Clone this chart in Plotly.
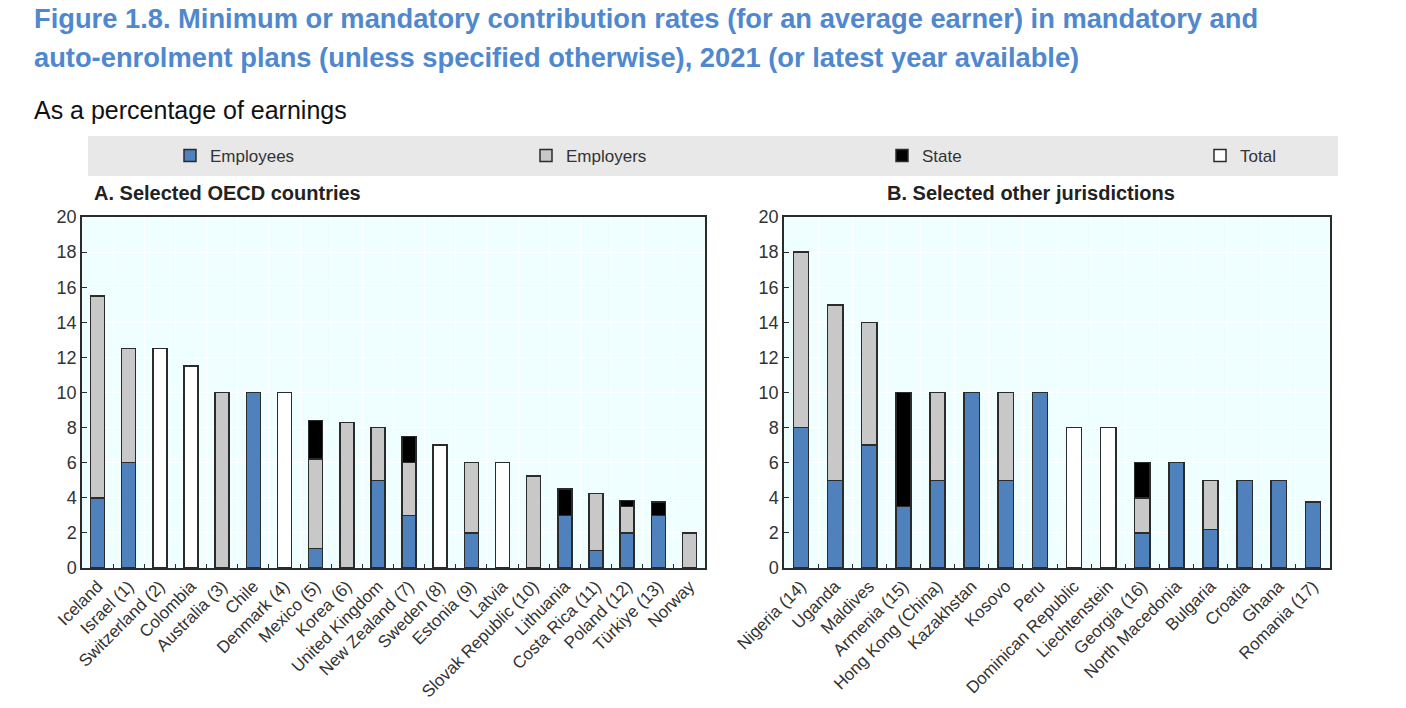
import plotly.graph_objects as go

W, H = 1406, 708

# ---------------- data ----------------
oecd = ["Iceland", "Israel (1)", "Switzerland (2)", "Colombia", "Australia (3)", "Chile",
        "Denmark (4)", "Mexico (5)", "Korea (6)", "United Kingdom", "New Zealand (7)",
        "Sweden (8)", "Estonia (9)", "Latvia", "Slovak Republic (10)", "Lithuania",
        "Costa Rica (11)", "Poland (12)", "Türkiye (13)", "Norway"]
oecd_employees = [4, 6, None, None, None, 10, None, 1.1, None, 5, 3, None, 2, None, None, 3, 1, 2, 3, None]
oecd_employers = [11.5, 6.5, None, None, 10, None, None, 5.1, 8.3, 3, 3, None, 4, None, 5.25, None, 3.25, 1.5, None, 2]
oecd_state = [None, None, None, None, None, None, None, 2.2, None, None, 1.5, None, None, None, None, 1.5, None, 0.35, 0.75, None]
oecd_total = [None, None, 12.5, 11.5, None, None, 10, None, None, None, None, 7, None, 6, None, None, None, None, None, None]

other = ["Nigeria (14)", "Uganda", "Maldives", "Armenia (15)", "Hong Kong (China)", "Kazakhstan",
         "Kosovo", "Peru", "Dominican Republic", "Liechtenstein", "Georgia (16)", "North Macedonia",
         "Bulgaria", "Croatia", "Ghana", "Romania (17)"]
other_employees = [8, 5, 7, 3.5, 5, 10, 5, 10, None, None, 2, 6, 2.2, 5, 5, 3.75]
other_employers = [10, 10, 7, None, 5, None, 5, None, None, None, 2, None, 2.8, None, None, None]
other_state = [None, None, None, 6.5, None, None, None, None, None, None, 2, None, None, None, None, None]
other_total = [None, None, None, None, None, None, None, None, 8, 8, None, None, None, None, None, None]

y_ticks = [0, 2, 4, 6, 8, 10, 12, 14, 16, 18, 20]

# ---------------- styles ----------------
C_EMP = "#4f81bd"
C_ER = "#c8c8c8"
C_ST = "#000000"
C_TOT = "#ffffff"
LINE = dict(color="#2b2b2b", width=1.5)
TITLE_BLUE = "#4f88cf"
FONT = "Liberation Sans, Arial, sans-serif"

def px(x):
    return x / W

def py(y):
    return 1 - y / H

fig = go.Figure()

series = [("Employees", C_EMP, oecd_employees, other_employees, "legend"),
          ("Employers", C_ER, oecd_employers, other_employers, "legend2"),
          ("State", C_ST, oecd_state, other_state, "legend3")]
for name, col, left_vals, right_vals, lg in series:
    fig.add_trace(go.Bar(x=oecd, y=left_vals, name=name, marker=dict(color=col, line=LINE),
                         xaxis="x", yaxis="y", legend=lg, showlegend=True))
    fig.add_trace(go.Bar(x=other, y=right_vals, name=name, marker=dict(color=col, line=LINE),
                         xaxis="x2", yaxis="y2", showlegend=False))

fig.add_trace(go.Bar(x=oecd, y=oecd_total, name="Total", marker=dict(color=C_TOT, line=LINE),
                     xaxis="x", yaxis="y", legend="legend4", showlegend=True))
fig.add_trace(go.Bar(x=other, y=other_total, name="Total", marker=dict(color=C_TOT, line=LINE),
                     xaxis="x2", yaxis="y2", showlegend=False))

y_top, y_bot = 217, 568
axis_common = dict(showline=True, linecolor="#2b2b2b", linewidth=1.5, mirror=True,
                   showgrid=True, gridcolor="#ffffff", gridwidth=1, zeroline=False,
                   automargin=False)
xaxis_common = dict(axis_common, type="category", ticks="inside", tickson="boundaries",
                    ticklen=4, tickcolor="#2b2b2b", tickangle=-45,
                    tickfont=dict(family=FONT, size=17, color="#333333"))
yaxis_common = dict(axis_common, range=[0, 20], tickvals=y_ticks, ticks="inside", ticklen=5,
                    tickcolor="#2b2b2b", tickfont=dict(family=FONT, size=18, color="#333333"))

fig.update_layout(
    width=W, height=H, autosize=False,
    margin=dict(l=0, r=0, t=0, b=0, autoexpand=False),
    paper_bgcolor="white", plot_bgcolor="#effefe",
    barmode="stack", bargap=0.55,
    xaxis=dict(xaxis_common, domain=[px(82), px(705)], anchor="y", categoryorder="array", categoryarray=oecd),
    yaxis=dict(yaxis_common, domain=[py(y_bot), py(y_top)], anchor="x"),
    xaxis2=dict(xaxis_common, domain=[px(784), px(1330)], anchor="y2", categoryorder="array", categoryarray=other),
    yaxis2=dict(yaxis_common, domain=[py(y_bot), py(y_top)], anchor="x2"),
    font=dict(family=FONT, color="#333333"),
)

leg_common = dict(orientation="h", xanchor="left", yanchor="middle", y=py(156),
                  bgcolor="rgba(0,0,0,0)", font=dict(family=FONT, size=17, color="#333333"),
                  itemclick=False)
fig.update_layout(
    legend=dict(leg_common, x=px(170)),
    legend2=dict(leg_common, x=px(526)),
    legend3=dict(leg_common, x=px(882)),
    legend4=dict(leg_common, x=px(1200)),
)

# legend band
fig.add_shape(type="rect", xref="paper", yref="paper", x0=px(88), x1=px(1338), y0=py(176), y1=py(136),
              fillcolor="#e8e8e8", line=dict(width=0), layer="below")

# titles
fig.add_annotation(text="<b>Figure 1.8. Minimum or mandatory contribution rates (for an average earner) in mandatory and</b>",
                   x=px(32), y=py(18), xref="paper", yref="paper", xanchor="left", yanchor="middle",
                   showarrow=False, font=dict(family=FONT, size=27.3, color=TITLE_BLUE))
fig.add_annotation(text="<b>auto-enrolment plans (unless specified otherwise), 2021 (or latest year available)</b>",
                   x=px(32), y=py(58), xref="paper", yref="paper", xanchor="left", yanchor="middle",
                   showarrow=False, font=dict(family=FONT, size=27.3, color=TITLE_BLUE))
fig.add_annotation(text="As a percentage of earnings",
                   x=px(32), y=py(110), xref="paper", yref="paper", xanchor="left", yanchor="middle",
                   showarrow=False, font=dict(family=FONT, size=25, color="#111111"))
fig.add_annotation(text="<b>A. Selected OECD countries</b>",
                   x=px(92), y=py(193), xref="paper", yref="paper", xanchor="left", yanchor="middle",
                   showarrow=False, font=dict(family=FONT, size=20, color="#222222"))
fig.add_annotation(text="<b>B. Selected other jurisdictions</b>",
                   x=px(1031), y=py(193), xref="paper", yref="paper", xanchor="center", yanchor="middle",
                   showarrow=False, font=dict(family=FONT, size=20, color="#222222"))

fig.write_html("out.html")
